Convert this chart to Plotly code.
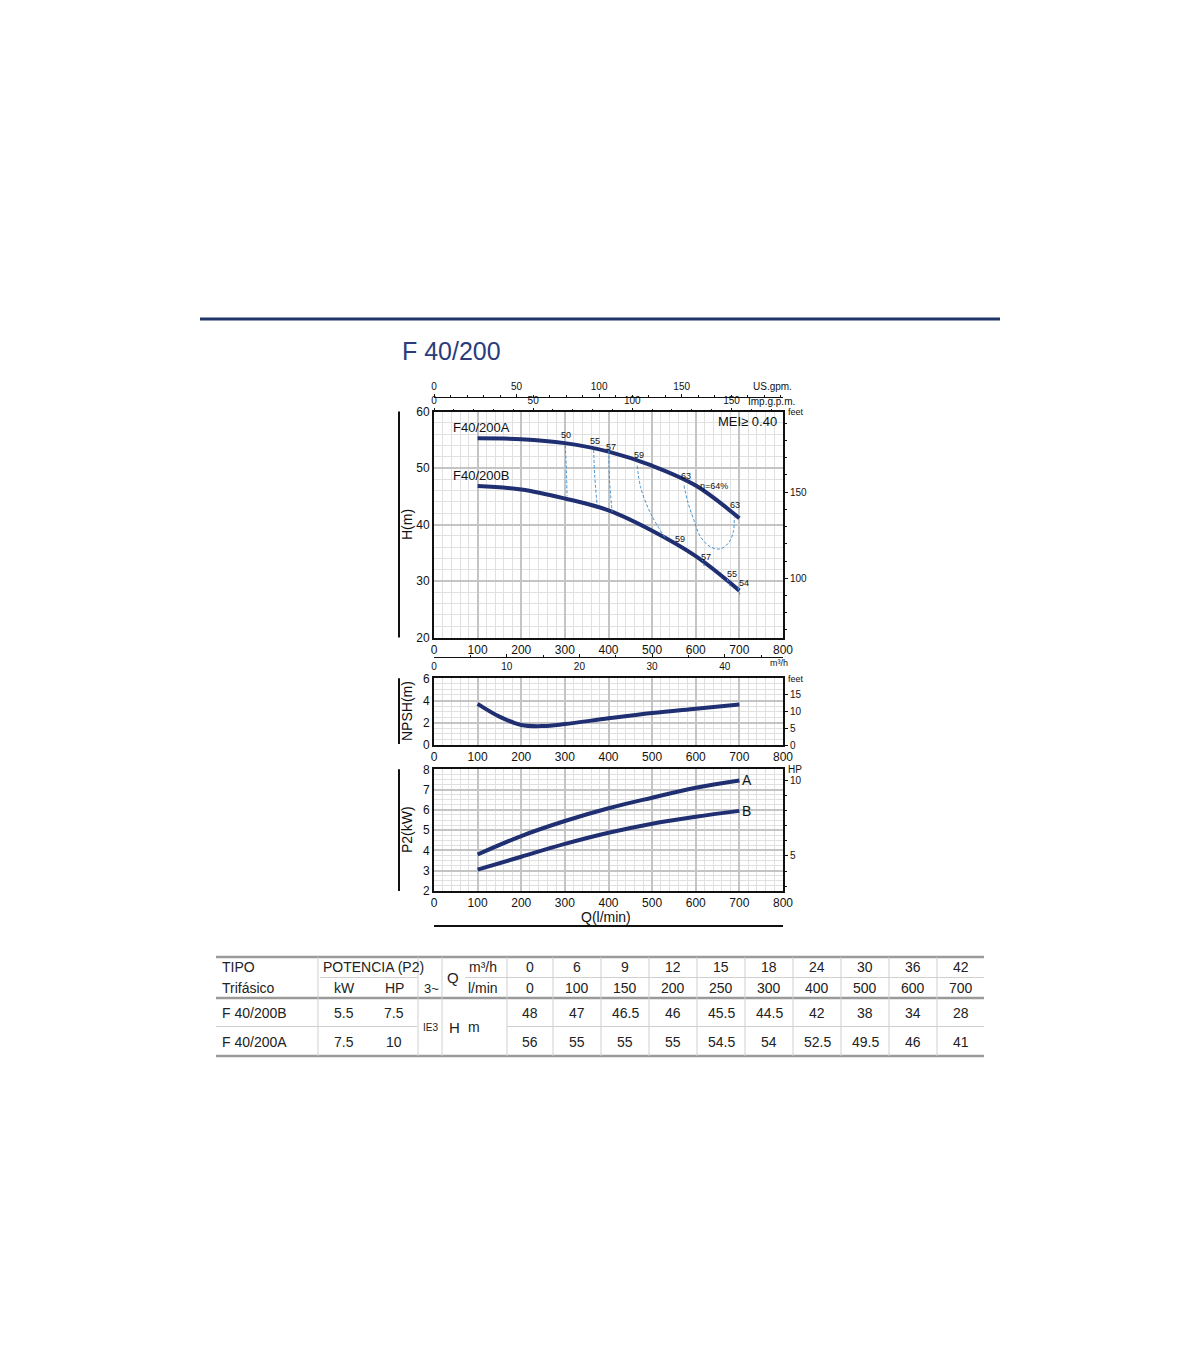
import plotly.graph_objects as go

# Performance table
q_m3h = [0, 6, 9, 12, 15, 18, 24, 30, 36, 42]
q_lmin = [0, 100, 150, 200, 250, 300, 400, 500, 600, 700]
h_b = [48, 47, 46.5, 46, 45.5, 44.5, 42, 38, 34, 28]
h_a = [56, 55, 55, 55, 54.5, 54, 52.5, 49.5, 46, 41]
models = ["F 40/200B", "F 40/200A"]
power_kw = ["5.5", "7.5"]
power_hp = ["7.5", "10"]

# H curves
curve_q = [100, 200, 300, 400, 500, 600, 700]
curve_a = [55.25, 55.1, 54.4, 52.9, 50.4, 46.9, 41.1]
curve_b = [46.8, 46.2, 44.6, 42.5, 38.9, 34.4, 28.3]

# NPSH curve
npsh_q = [100, 150, 200, 250, 300, 400, 500, 600, 700]
npsh_m = [3.7, 2.55, 1.8, 1.7, 1.88, 2.4, 2.88, 3.27, 3.65]

# P2 curves
p2_q = [100, 200, 300, 400, 500, 600, 700]
p2_a = [3.8, 4.71, 5.45, 6.08, 6.6, 7.09, 7.45]
p2_b = [3.05, 3.69, 4.32, 4.87, 5.32, 5.66, 5.95]

# iso-efficiency lines (Q l/min, H m)
eff_50_q = [301, 303.4, 305]
eff_50_h = [54.0, 49.6, 45.0]
eff_55_q = [366, 368.6, 374]
eff_55_h = [53.2, 48.4, 43.4]
eff_57_q = [400.8, 402.3, 408.5]
eff_57_h = [53.1, 47.8, 42.2]
eff_59_q = [466, 473.6, 496.6, 531]
eff_59_h = [50.4, 46.6, 41.95, 37.5]
eff_63_q = [573, 581, 596, 611.5, 634.5, 657.5, 676.6, 686.6, 688]
eff_63_h = [46.9, 44.2, 40.7, 37.75, 36.0, 35.7, 36.9, 38.9, 41.3]
eff_ticks = [([614, 620], [34.0, 32.5]), ([672, 679], [30.4, 29.0]), ([697, 701], [28.9, 27.6])]
eff_labels = [("50", 303, 55.8), ("55", 370, 54.7), ("57", 405, 53.7), ("59", 469, 52.3),
              ("63", 577, 48.5), ("η=64%", 641, 46.9), ("63", 690, 43.4),
              ("59", 565, 37.5), ("57", 623, 34.3), ("55", 683, 31.2), ("54", 710, 29.6)]

W, H = 1200, 1372
NAVY = "#1f2f72"
EFF = "#3f92d2"
FONT = "Liberation Sans Narrow, Liberation Sans, Arial"
TFONT = "Liberation Sans, Arial"


def px(x):
    return x / W


def py(y):
    return 1 - y / H


X0, X1 = px(434), px(783)
dom_h = [py(637.5), py(411.5)]
dom_n = [py(745), py(678.3)]
dom_p = [py(891), py(769.3)]

fig = go.Figure()

# H curves
for cy in [curve_a, curve_b]:
    fig.add_trace(go.Scatter(x=curve_q, y=cy, mode="lines", line=dict(color=NAVY, width=4, shape="spline"),
                             xaxis="x", yaxis="y", showlegend=False))
for eq, eh in [(eff_50_q, eff_50_h), (eff_55_q, eff_55_h), (eff_57_q, eff_57_h),
               (eff_59_q, eff_59_h), (eff_63_q, eff_63_h)] + eff_ticks:
    fig.add_trace(go.Scatter(x=eq, y=eh, mode="lines",
                             line=dict(color=EFF, width=1, dash="3px,2px", shape="spline"),
                             xaxis="x", yaxis="y", showlegend=False))

# NPSH
fig.add_trace(go.Scatter(x=npsh_q, y=npsh_m, mode="lines", line=dict(color=NAVY, width=4, shape="spline"),
                         xaxis="x5", yaxis="y3", showlegend=False))
# P2
for cy in [p2_a, p2_b]:
    fig.add_trace(go.Scatter(x=p2_q, y=cy, mode="lines", line=dict(color=NAVY, width=4, shape="spline"),
                             xaxis="x6", yaxis="y5", showlegend=False))

# dummy traces so that the secondary axes are drawn
for xa, ya in [("x2", "y"), ("x3", "y"), ("x4", "y"), ("x", "y2"), ("x5", "y4"), ("x6", "y6")]:
    fig.add_trace(go.Scatter(x=[None], y=[None], xaxis=xa, yaxis=ya, showlegend=False, hoverinfo="skip"))

tickfont = dict(family=FONT, size=12, color="#111")
smallfont = dict(family=FONT, size=10, color="#111")


def main_x(anchor):
    return dict(domain=[X0, X1], range=[0, 800], anchor=anchor, tickvals=list(range(0, 801, 100)),
                ticks="", showgrid=True, gridcolor="#c4c4c4", gridwidth=1.5,
                minor=dict(dtick=20, showgrid=True, gridcolor="#e0e0e0", gridwidth=1),
                showline=True, mirror=True, linecolor="#111", linewidth=2, zeroline=False,
                tickfont=tickfont, fixedrange=True, automargin=False)


def main_y(domain, rng, dtick, minor, anchor):
    return dict(domain=domain, range=rng, anchor=anchor, dtick=dtick, ticks="",
                showgrid=True, gridcolor="#c4c4c4", gridwidth=1.5,
                minor=dict(dtick=minor, showgrid=True, gridcolor="#e0e0e0", gridwidth=1),
                showline=True, mirror=True, linecolor="#111", linewidth=2, zeroline=False,
                tickfont=tickfont, fixedrange=True, automargin=False)


def right_y(overlay, anchor, rng, vals, minor):
    return dict(overlaying=overlay, side="right", anchor=anchor,
                range=rng, tickvals=vals, ticks="outside", ticklen=4, tickcolor="#111",
                minor=dict(dtick=minor, ticks="outside", ticklen=3, tickcolor="#111", showgrid=False),
                showgrid=False, zeroline=False, showline=False, tickfont=smallfont, fixedrange=True,
                automargin=False)


fig.update_layout(
    width=W, height=H, margin=dict(l=0, r=0, t=0, b=0, pad=0, autoexpand=False),
    paper_bgcolor="white", plot_bgcolor="white", showlegend=False,
    xaxis=main_x("y"),
    yaxis=main_y(dom_h, [20, 60], 10, 2, "x"),
    yaxis2=right_y("y", "x", [20 * 3.28084, 60 * 3.28084], [100, 150], 10),
    # Imp gpm on top border
    xaxis2=dict(overlaying="x", side="top", anchor="y", range=[0, 800 / 4.54609], tickvals=[0, 50, 100, 150],
                ticks="outside", ticklen=3, tickcolor="#111",
                minor=dict(dtick=10, ticks="outside", ticklen=2, tickcolor="#111", showgrid=False),
                showgrid=False, zeroline=False, showline=False, tickfont=smallfont, fixedrange=True,
                automargin=False),
    # US gpm
    xaxis3=dict(overlaying="x", side="top", anchor="free", position=py(396.5), range=[0, 800 / 3.78541],
                tickvals=[0, 50, 100, 150], ticks="outside", ticklen=3, tickcolor="#111",
                minor=dict(dtick=10, ticks="outside", ticklen=2, tickcolor="#111", showgrid=False),
                showgrid=False, zeroline=False, showline=True, linecolor="#111", linewidth=1,
                tickfont=smallfont, fixedrange=True, automargin=False),
    # m3/h
    xaxis4=dict(overlaying="x", side="bottom", anchor="free", position=py(656.5), range=[0, 48],
                tickvals=[0, 10, 20, 30, 40], ticks="inside", ticklen=3, tickcolor="#111",
                minor=dict(dtick=5, ticks="inside", ticklen=2, tickcolor="#111", showgrid=False),
                showgrid=False, zeroline=False, showline=True, linecolor="#111", linewidth=1,
                tickfont=smallfont, fixedrange=True, automargin=False),
    xaxis5=main_x("y3"),
    yaxis3=main_y(dom_n, [0, 6], 2, 0.5, "x5"),
    yaxis4=right_y("y3", "x5", [0, 6 * 3.28084], [0, 5, 10, 15], 5),
    xaxis6=main_x("y5"),
    yaxis5=main_y(dom_p, [2, 8], 1, 0.25, "x6"),
    yaxis6=right_y("y5", "x6", [2 / 0.7457, 8 / 0.7457], [5, 10], 1),
)

ann = []


def txt(text, x, y, size=12, anchor="center", family=FONT, color="#111", xref="paper", yref="paper",
        angle=0, yanchor="middle"):
    ann.append(dict(text=text, x=x, y=y, xref=xref, yref=yref, showarrow=False, xanchor=anchor,
                    yanchor=yanchor, textangle=angle, font=dict(family=family, size=size, color=color)))


# efficiency labels
for t, q, h in eff_labels:
    txt(t, q, h, size=9, xref="x", yref="y")
txt("F40/200A", 38, 57.2, size=13, anchor="left", xref="x", yref="y")
txt("F40/200B", 38, 48.7, size=13, anchor="left", xref="x", yref="y")
txt("MEI≥ 0.40", 791, 58.2, size=13, anchor="right", xref="x", yref="y", family=TFONT)

# axis labels
txt("US.gpm.", px(751), py(386.5), size=10, anchor="left")
txt("Imp.g.p.m.", px(746), py(401.5), size=10, anchor="left")
txt("feet", px(786), py(412), size=9, anchor="left")
txt("m³/h", px(768), py(663), size=9, anchor="left")
txt("feet", px(786), py(679), size=9, anchor="left")
txt("HP", px(786), py(769), size=10, anchor="left")
txt("A", px(740), py(780), size=14, anchor="left", family=TFONT)
txt("B", px(740), py(811), size=14, anchor="left", family=TFONT)
txt("H(m)", px(407), py(525), size=14, angle=-90)
txt("NPSH(m)", px(407), py(711), size=14, angle=-90)
txt("P2(kW)", px(407), py(830), size=14, angle=-90)
txt("Q(l/min)", px(606), py(917), size=14)

# title
txt("F 40/200", px(400), py(351), size=25, anchor="left", family=TFONT, color="#2a3c7c")

shapes = [
    dict(type="line", xref="paper", yref="paper", x0=px(200), x1=px(1000), y0=py(319), y1=py(319),
         line=dict(color="#1f3468", width=3)),
    dict(type="line", xref="paper", yref="paper", x0=px(399), x1=px(399), y0=py(411.5), y1=py(637.5),
         line=dict(color="#111", width=2)),
    dict(type="line", xref="paper", yref="paper", x0=px(399), x1=px(399), y0=py(678.3), y1=py(744),
         line=dict(color="#111", width=2)),
    dict(type="line", xref="paper", yref="paper", x0=px(399), x1=px(399), y0=py(769.3), y1=py(891),
         line=dict(color="#111", width=2)),
    dict(type="line", xref="paper", yref="paper", x0=px(434), x1=px(783), y0=py(926), y1=py(926),
         line=dict(color="#111", width=2)),
]

# ---- table ----
TL, TR = 216, 984
thick = dict(color="#9a9a9a", width=2.5)
thin = dict(color="#cfcfcf", width=1)


def hline(x0, x1, y, line):
    shapes.append(dict(type="line", xref="paper", yref="paper", x0=px(x0), x1=px(x1), y0=py(y), y1=py(y), line=line))


def vline(x, y0, y1, line):
    shapes.append(dict(type="line", xref="paper", yref="paper", x0=px(x), x1=px(x), y0=py(y0), y1=py(y1), line=line))


hline(TL, TR, 957, thick)
hline(TL, TR, 998, thick)
hline(TL, TR, 1056, thick)
hline(320, 417, 977.5, thin)
hline(465, TR, 977.5, thin)
hline(TL, 417, 1026.5, thin)
hline(507, TR, 1026.5, thin)
col_edges = [507, 553, 601, 649, 697, 745, 793, 841, 889, 937, TR]
for xv in [318, 418, 442] + col_edges[:-1]:
    vline(xv, 957, 1056, thin)

r1, r2, r3, r4 = 967, 988, 1013, 1041.5
tf = TFONT
txt("TIPO", px(220), py(r1), size=14, anchor="left", family=tf, color="#222")
txt("Trifásico", px(220), py(r2), size=14, anchor="left", family=tf, color="#222")
txt("POTENCIA (P2)", px(321), py(r1), size=14, anchor="left", family=tf, color="#222")
txt("kW", px(344), py(r2), size=14, family=tf, color="#222")
txt("HP", px(394), py(r2), size=14, family=tf, color="#222")
txt("3~", px(422), py(r2), size=13, anchor="left", family=tf, color="#222")
txt("Q", px(453), py(977), size=15, family=tf, color="#222")
txt("m³/h", px(483), py(r1), size=14, family=tf, color="#222")
txt("l/min", px(483), py(r2), size=14, family=tf, color="#222")
txt("IE3", px(430), py(1027), size=10, family=tf, color="#222")
txt("H", px(454), py(1027), size=15, family=tf, color="#222")
txt("m", px(474), py(1027), size=14, family=tf, color="#222")
for row_y, name, kw, hp in [(r3, models[0], power_kw[0], power_hp[0]), (r4, models[1], power_kw[1], power_hp[1])]:
    txt(name, px(220), py(row_y), size=14, anchor="left", family=tf, color="#222")
    txt(kw, px(344), py(row_y), size=14, family=tf, color="#222")
    txt(hp, px(394), py(row_y), size=14, family=tf, color="#222")
for i in range(len(q_m3h)):
    cx = px((col_edges[i] + col_edges[i + 1]) / 2)
    txt(str(q_m3h[i]), cx, py(r1), size=14, family=tf, color="#222")
    txt(str(q_lmin[i]), cx, py(r2), size=14, family=tf, color="#222")
    txt(f"{h_b[i]:g}", cx, py(r3), size=14, family=tf, color="#222")
    txt(f"{h_a[i]:g}", cx, py(r4), size=14, family=tf, color="#222")

fig.update_layout(annotations=ann, shapes=shapes)
# drop the default body margin so the figure sits at the page origin
fig.write_html("out.html", post_script="document.body.style.margin='0px';document.body.style.overflow='hidden';",
               config={"displayModeBar": False})
